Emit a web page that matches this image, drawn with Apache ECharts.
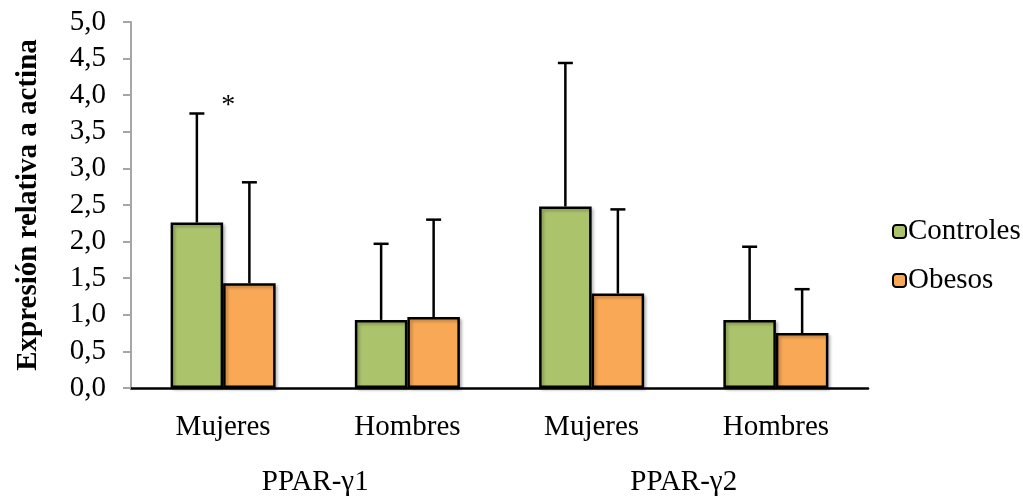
<!DOCTYPE html>
<html>
<head>
<meta charset="utf-8">
<script src="https://cdn.jsdelivr.net/npm/echarts@6/dist/echarts.min.js"></script>
<style>html,body{margin:0;padding:0;background:#fff;}#c{width:1023px;height:497px;}</style>
</head>
<body>
<div id="c"></div>
<script>
var categories = ['Mujeres', 'Hombres', 'Mujeres', 'Hombres'];
var groups = ['PPAR-\u03b31', 'PPAR-\u03b32'];
var controles = [2.26, 0.93, 2.48, 0.93];
var controlesUpper = [3.75, 1.97, 4.44, 1.93];
var obesos = [1.43, 0.97, 1.29, 0.75];
var obesosUpper = [2.81, 2.30, 2.44, 1.35];
var significance = ['*', '', '', ''];
var sigValue = [3.92, null, null, null];
var yTicks = [0, 0.5, 1, 1.5, 2, 2.5, 3, 3.5, 4, 4.5, 5];

var FONT = 'Liberation Serif';
var BAR_FRAC = 0.285;

function errData(means, uppers) {
  return means.map(function (m, i) { return [i, m, uppers[i]]; });
}
function errSeries(name, means, uppers, side) {
  return {
    type: 'custom',
    name: name + ' err',
    data: errData(means, uppers),
    z: 5,
    silent: true,
    renderItem: function (params, api) {
      var band = api.size([1, 0])[0];
      var bw = band * BAR_FRAC;
      var base = api.coord([api.value(0), api.value(1)]);
      var top = api.coord([api.value(0), api.value(2)]);
      var x = base[0] + side * bw / 2;
      var cap = 7.5;
      var st = { stroke: '#000', lineWidth: 2.5 };
      return {
        type: 'group',
        children: [
          { type: 'line', shape: { x1: x, y1: base[1], x2: x, y2: top[1] }, style: st },
          { type: 'line', shape: { x1: x - cap, y1: top[1], x2: x + cap, y2: top[1] }, style: st }
        ]
      };
    }
  };
}

var chart = echarts.init(document.getElementById('c'));
chart.setOption({
  animation: false,
  backgroundColor: '#fff',
  textStyle: { fontFamily: FONT, color: '#000' },
  grid: { left: 131, right: 155, top: 22, bottom: 108, containLabel: false },
  legend: {
    orient: 'vertical',
    left: 887,
    top: 212,
    itemWidth: 13,
    itemHeight: 13,
    itemGap: 20,
    data: ['Controles', 'Obesos'],
    textStyle: { fontFamily: FONT, fontSize: 29, color: '#000', padding: [0, 0, 0, -3] }
  },
  xAxis: [
    {
      type: 'category',
      data: categories,
      position: 'bottom',
      axisLine: { lineStyle: { color: '#000', width: 2.5 } },
      axisTick: { show: false },
      axisLabel: { fontFamily: FONT, fontSize: 29, color: '#000', margin: 25 }
    },
    {
      type: 'category',
      data: groups,
      position: 'bottom',
      offset: 80,
      axisLine: { show: false },
      axisTick: { show: false },
      axisLabel: { fontFamily: FONT, fontSize: 29, color: '#000', margin: 0 }
    }
  ],
  yAxis: {
    type: 'value',
    min: 0,
    max: 5,
    interval: 0.5,
    name: 'Expresión relativa a actina',
    nameLocation: 'middle',
    nameGap: 88,
    nameTextStyle: { fontFamily: FONT, fontSize: 29, fontWeight: 'bold', color: '#000' },
    axisLine: { show: true, lineStyle: { color: '#a6a6a6', width: 2 } },
    axisTick: { show: true, length: 8, lineStyle: { color: '#a6a6a6', width: 2 } },
    splitLine: { show: false },
    axisLabel: {
      fontFamily: FONT, fontSize: 29, color: '#000', margin: 25,
      formatter: function (v) { return v.toFixed(1).replace('.', ','); }
    }
  },
  series: [
    {
      name: 'Controles',
      type: 'bar',
      data: controles,
      barWidth: (BAR_FRAC * 100) + '%',
      barGap: '0%',
      itemStyle: { color: '#abc46c', borderColor: '#000', borderWidth: 2.5,
        shadowColor: 'rgba(0,0,0,0.25)', shadowBlur: 3, shadowOffsetX: 2, shadowOffsetY: 2 }
    },
    {
      name: 'Obesos',
      type: 'bar',
      data: obesos,
      barWidth: (BAR_FRAC * 100) + '%',
      barGap: '0%',
      itemStyle: { color: '#f9a855', borderColor: '#000', borderWidth: 2.5,
        shadowColor: 'rgba(0,0,0,0.25)', shadowBlur: 3, shadowOffsetX: 2, shadowOffsetY: 2 }
    },
    errSeries('Controles', controles, controlesUpper, -1),
    errSeries('Obesos', obesos, obesosUpper, 1),
    {
      type: 'scatter',
      name: 'sig',
      symbolSize: 1,
      itemStyle: { opacity: 0 },
      silent: true,
      data: sigValue.map(function (v, i) { return [i, v]; }).filter(function (d) { return d[1] != null; }),
      label: {
        show: true,
        position: 'inside',
        offset: [5, 5],
        fontFamily: FONT, fontSize: 28, color: '#000', opacity: 1,
        formatter: function (p) { return significance[p.data[0]]; }
      }
    }
  ]
});
</script>
</body>
</html>
